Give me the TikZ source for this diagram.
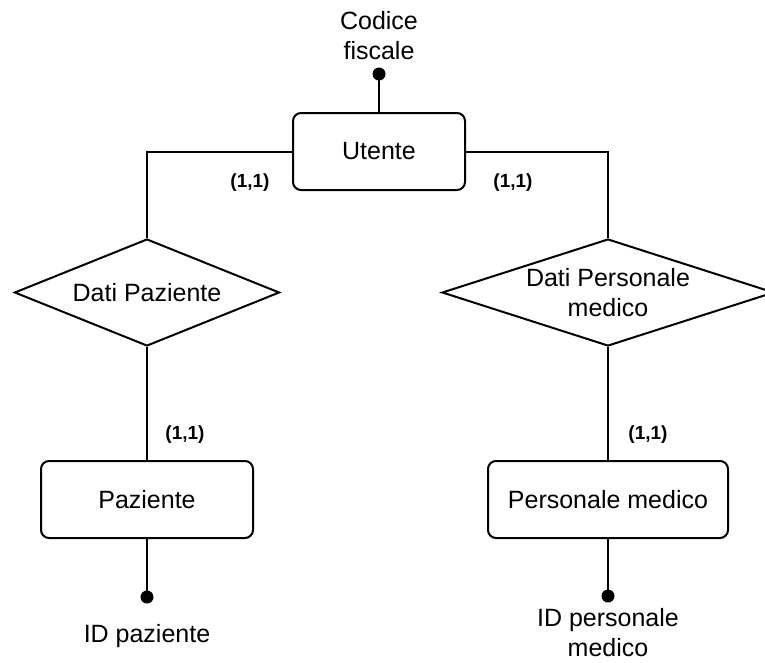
\documentclass[tikz,border=0pt]{standalone}
\usepackage{fontspec}
\setmainfont{Liberation Sans}
\usetikzlibrary{shapes.geometric}
\begin{document}
\begin{tikzpicture}[x=0.75pt,y=-0.75pt,
  line width=1.5pt,
  txt/.style={font=\fontsize{18.75}{22.5}\selectfont, align=center, inner sep=0},
  entity/.style={txt, draw, rounded corners=6pt, minimum height=57.75pt},
  relation/.style={draw, diamond, inner sep=0, minimum height=80.25pt},
  card/.style={font=\fontsize{14.25}{16}\selectfont\bfseries, inner sep=0},
  attrdot/.style={circle, fill, inner sep=0, minimum size=9.75pt}
]
\useasboundingbox (0,0) rectangle (765,662);

% Entities
\node[entity, minimum width=129pt] (ut) at (379,151.5) {Utente};
\node[entity, minimum width=159pt] (paz) at (147,499.5) {Paziente};
\node[entity, minimum width=180pt] (pm) at (608,499.5) {Personale medico};

% Relationships
\node[relation, minimum width=198.75pt] (rdp) at (147,292.5) {};
\node[txt] (rdptext) at (rdp.center) {Dati Paziente};
\node[relation, minimum width=249pt] (rdm) at (608,292.5) {};
\node[txt] (rdmtext) at (rdm.center) {Dati Personale\\medico};

% Identifiers
\node[attrdot] (cfdot) at (379,74) {};
\node[txt] (cf) at (379,36) {Codice\\fiscale};
\node[attrdot] (idpdot) at (147,597) {};
\node[txt] (idp) at (147,636) {ID paziente};
\node[attrdot] (idmdot) at (608,596) {};
\node[txt] (idm) at (608,633) {ID personale\\medico};

% Connectors
\draw (cfdot.center) -- (ut.north);
\draw (ut.west) -| (rdp.north);
\draw (ut.east) -| (rdm.north);
\draw (rdp.south) -- (paz.north);
\draw (rdm.south) -- (pm.north);
\draw (paz.south) -- (idpdot.center);
\draw (pm.south) -- (idmdot.center);

% Cardinalities
\node[card] (c1) at (250,183) {(1,1)};
\node[card] (c2) at (513,183) {(1,1)};
\node[card] (c3) at (185,435) {(1,1)};
\node[card] (c4) at (648,435) {(1,1)};
\end{tikzpicture}
\end{document}
